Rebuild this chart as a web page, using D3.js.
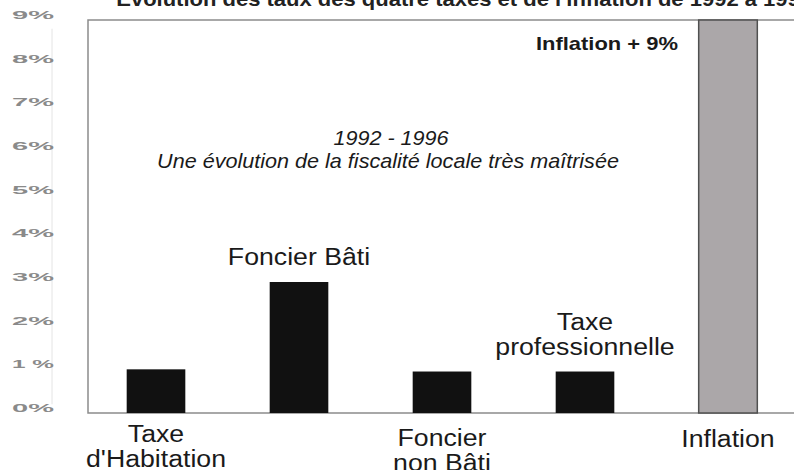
<!DOCTYPE html>
<html lang="fr">
<head>
<meta charset="utf-8">
<title>Fiscalité locale et inflation 1992 - 1996</title>
<script src="https://d3js.org/d3.v7.min.js"></script>
<style>
  body { margin: 0; background: #fff; }
  svg { display: block; font-family: "Liberation Sans", Arial, sans-serif; }
</style>
</head>
<body>
<script>
// data (hausse 1992 - 1996, en %)
var categories = ["Taxe d'Habitation", "Foncier Bâti", "Foncier non Bâti", "Taxe professionnelle", "Inflation"];
var values = [1.0, 3.0, 0.95, 0.95, 9];
var yTicks = [0, 1, 2, 3, 4, 5, 6, 7, 8, 9];
var bottomLabels = [["Taxe", "d'Habitation"], [], ["Foncier", "non Bâti"], [], ["Inflation"]];
var topLabels = [[], ["Foncier Bâti"], [], ["Taxe", "professionnelle"], []];

var width = 794, height = 470;
var frame = { left: 88, top: 20, right: 800, bottom: 413 };
var stretch = 1.16; // the scanned type is wider than the fonts we have

var svg = d3.select("body").append("svg")
    .attr("width", width)
    .attr("height", height);

var x = d3.scaleBand()
    .domain(categories)
    .range([84.5, 799.5])
    .paddingInner(0.59)
    .paddingOuter(0.59 / 2);

var y = d3.scaleLinear()
    .domain([0, 9])
    .range([frame.bottom, frame.top]);

// wide text helper
function label(px, py, t, size, sx, anchor) {
  return svg.append("text")
      .attr("transform", "translate(" + px + "," + py + ") scale(" + sx + ",1)")
      .attr("text-anchor", anchor || "middle")
      .style("font-size", size + "px")
      .style("fill", "#1a1a1a")
      .text(t);
}

// cut-off title at the top
label(812, 6, "Évolution des taux des quatre taxes et de l'inflation de 1992 à 1996", 20, 1.1, "end")
    .style("font-weight", "bold")
    .style("fill", "#222");

// faint axis line
svg.append("line")
    .attr("x1", 52).attr("x2", 52)
    .attr("y1", y(8.8)).attr("y2", y(0.2))
    .style("stroke", "#e4e4e4")
    .style("stroke-width", 1);

// y labels
svg.selectAll(".ylab")
  .data(yTicks)
  .enter()
  .append("text")
    .attr("class", "ylab")
    .attr("x", 12)
    .attr("y", function(d) { return y(d) - 1; })
    .attr("textLength", 42)
    .attr("lengthAdjust", "spacingAndGlyphs")
    .style("font-size", "11px")
    .style("font-weight", "bold")
    .style("fill", "#8a8a8a")
    .text(function(d) { return d === 1 ? "1 %" : d + "%"; });

// frame
svg.append("path")
    .attr("d", "M" + frame.right + "," + frame.top + "H" + frame.left + "V" + frame.bottom + "H" + frame.right)
    .style("fill", "none")
    .style("stroke", "#8c8c8c")
    .style("stroke-width", 1.5);

// bars
svg.selectAll(".bar")
  .data(values)
  .enter()
  .append("rect")
    .attr("class", "bar")
    .attr("x", function(d, i) { return x(categories[i]); })
    .attr("y", function(d) { return y(d); })
    .attr("width", x.bandwidth())
    .attr("height", function(d) { return y(0) - y(d); })
    .style("fill", function(d, i) { return i === 4 ? "#aba7a9" : "#111"; })
    .style("stroke", function(d, i) { return i === 4 ? "#505050" : "none"; })
    .style("stroke-width", 1.5);

// labels under the axis
bottomLabels.forEach(function(lines, i) {
  var cx = x(categories[i]) + x.bandwidth() / 2;
  lines.forEach(function(t, j) {
    label(cx, (i === 2 ? 446 : (i === 4 ? 447 : 442)) + j * 25, t, 23, stretch);
  });
});

// labels above the bars
topLabels.forEach(function(lines, i) {
  var cx = x(categories[i]) + x.bandwidth() / 2;
  lines.forEach(function(t, j) {
    label(cx, y(values[i]) - 17 - (lines.length - 1 - j) * 25, t, 23, stretch);
  });
});

// annotations
label(678, 50, "Inflation + 9%", 18, 1.22, "end")
    .style("font-weight", "bold");

label(391, 145, "1992 - 1996", 20, 1.08)
    .style("font-style", "italic");

label(388, 168, "Une évolution de la fiscalité locale très maîtrisée", 20, 1.08)
    .style("font-style", "italic");
</script>
</body>
</html>
